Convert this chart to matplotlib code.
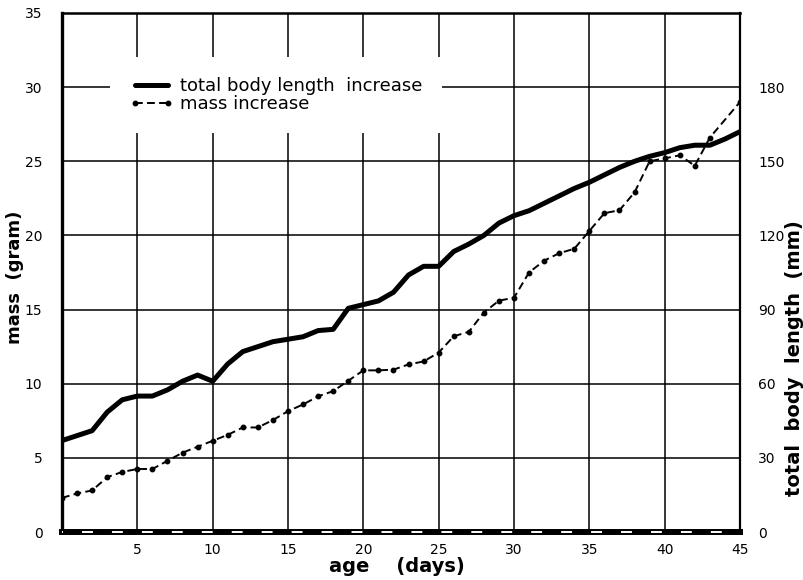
import matplotlib
matplotlib.use("Agg")
import matplotlib.pyplot as plt

# ---- data ----
days_length = list(range(0, 46))
length_mm = [37, 39, 41, 48.5, 53.5, 55, 55, 57.5, 61, 63.5,
             61, 68, 73, 75, 77, 78, 79, 81.5, 82, 90.5,
             92, 93.5, 97, 104, 107.5, 107.5, 113.5, 116.5, 120, 125,
             128, 130, 133, 136, 139, 141.5, 144.5, 147.5, 150, 152,
             153.5, 155.5, 156.5, 156.5, 159, 162]

days_mass = list(range(0, 44)) + [45]
mass_g = [2.3, 2.6, 2.8, 3.7, 4.05, 4.25, 4.25, 4.8, 5.35, 5.75,
          6.15, 6.55, 7.05, 7.05, 7.55, 8.15, 8.6, 9.15, 9.5, 10.2,
          10.9, 10.9, 10.95, 11.3, 11.5, 12.1, 13.2, 13.5, 14.8, 15.6,
          15.8, 17.5, 18.3, 18.8, 19.1, 20.3, 21.5, 21.7, 22.9, 25.0,
          25.2, 25.4, 24.7, 26.6, 29.0]

x_ticks = [5, 10, 15, 20, 25, 30, 35, 40, 45]
mass_ticks = [0, 5, 10, 15, 20, 25, 30, 35]
length_ticks = [0, 30, 60, 90, 120, 150, 180]

label_length = "total body length  increase"
label_mass = "mass increase"

W, H = 804, 580
fig = plt.figure(figsize=(W / 100, H / 100), dpi=100)
ax = fig.add_axes([62 / W, 1 - 532 / H, (740 - 62) / W, (532 - 13) / H])
ax.set_xlim(0, 45)
ax.set_ylim(0, 35)
ax.set_xticks(x_ticks)
ax.set_yticks(mass_ticks)
ax.grid(True, color="black", linewidth=1.1)
ax.set_axisbelow(True)
ax.tick_params(axis="both", length=0, labelsize=10)
ax.tick_params(axis="y", pad=14)
ax.tick_params(axis="x", pad=8)

for side, lw in (("left", 2.4), ("top", 1.8), ("right", 1.6), ("bottom", 4.3)):
    ax.spines[side].set_linewidth(lw)
    ax.spines[side].set_color("black")

# white dashes inside the thick bottom axis line
ax.axhline(0, color="white", linewidth=1.4, linestyle=(5.1, (5.6, 9.8)),
           clip_on=False, zorder=5)

ax2 = ax.twinx()
ax2.set_ylim(0, 210)
ax2.set_yticks(length_ticks)
ax2.tick_params(axis="y", length=0, labelsize=10, pad=13)
for s in ax2.spines.values():
    s.set_visible(False)

mass_line, = ax.plot(days_mass, mass_g, color="black", linewidth=1.4,
                     linestyle=(0, (4, 2.2)), marker="o", markersize=3.2,
                     zorder=3)
len_line, = ax2.plot(days_length, length_mm, color="black", linewidth=3.6,
                     solid_joinstyle="round", solid_capstyle="round", zorder=3)

leg = ax2.legend([len_line, mass_line], [label_length, label_mass],
                 loc="upper left", bbox_to_anchor=(48 / 678, 1 - 44 / 519),
                 frameon=True, fancybox=False, edgecolor="none",
                 facecolor="white", framealpha=1.0, fontsize=13,
                 handlelength=2.4, handletextpad=0.35, labelspacing=0.0,
                 borderpad=1.1, borderaxespad=0, numpoints=2)

fig.text(15 / W, 1 - 277 / H, "mass  (gram)", rotation=90, ha="center",
         va="center", fontsize=13, fontweight="bold")
fig.text(795 / W, 1 - 358 / H, "total  body  length  (mm)", rotation=90,
         ha="center", va="center", fontsize=14, fontweight="bold")
fig.text(397 / W, 1 - 566 / H, "age    (days)", ha="center", va="center",
         fontsize=14, fontweight="bold")

fig.savefig("out.png", dpi=100, facecolor="white")
